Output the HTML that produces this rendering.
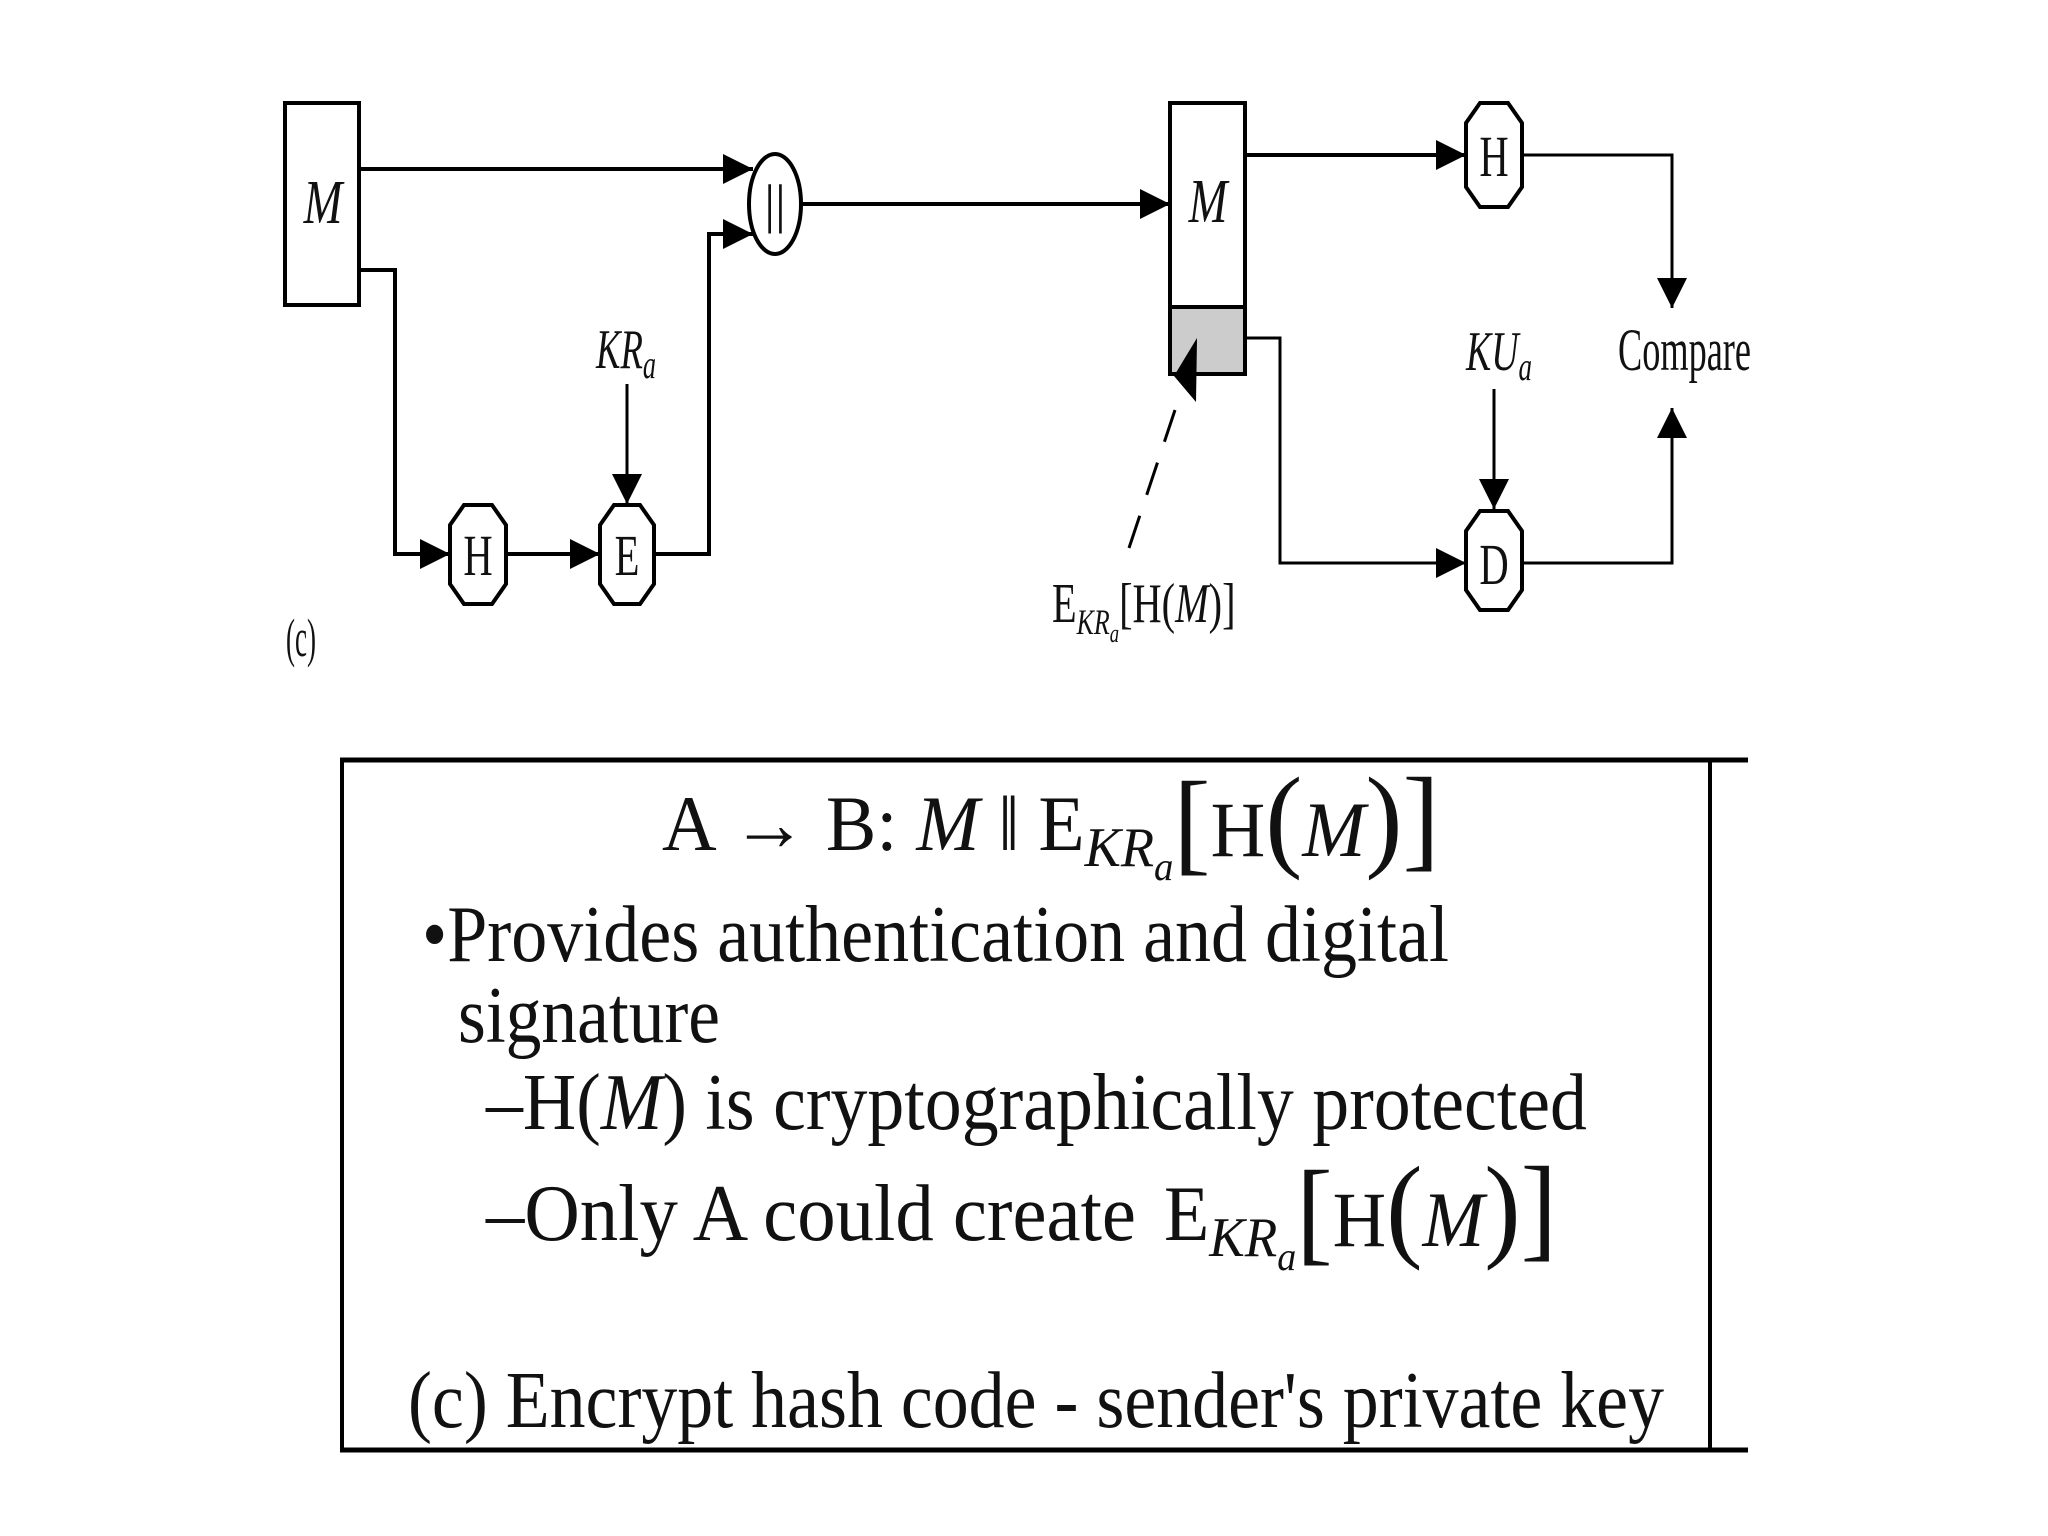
<!DOCTYPE html>
<html><head><meta charset="utf-8"><style>
html,body{margin:0;padding:0;background:#fff;}
svg{display:block;}
text{font-family:"Liberation Serif",serif;fill:#111;}
</style></head><body>
<svg width="2048" height="1536" viewBox="0 0 2048 1536" xmlns="http://www.w3.org/2000/svg">
<defs>
<marker id="ah" viewBox="0 0 10 10" refX="10" refY="5" markerWidth="30" markerHeight="30" markerUnits="userSpaceOnUse" orient="auto">
<path d="M0,0 L10,5 L0,10 z" fill="#000"/>
</marker>
</defs>
<g stroke="#000" stroke-width="4" fill="none">
<rect x="285" y="103" width="74" height="202" fill="#fff"/>
<line x1="359" y1="169" x2="753" y2="169" marker-end="url(#ah)"/>
<polyline points="359,270 395,270 395,554 450,554" marker-end="url(#ah)"/>
<line x1="506" y1="554" x2="600" y2="554" marker-end="url(#ah)"/>
<polyline points="654,554 709,554 709,234 753,234" marker-end="url(#ah)"/>
<line x1="627" y1="384" x2="627" y2="504" stroke-width="3" marker-end="url(#ah)"/>
<ellipse cx="775" cy="204" rx="26" ry="50" fill="#fff"/>
<line x1="801" y1="204" x2="1170" y2="204" marker-end="url(#ah)"/>
<polygon points="464,505 492,505 506,525 506,584 492,604 464,604 450,584 450,525" fill="#fff"/>
<polygon points="614,505 640,505 654,525 654,584 640,604 614,604 600,584 600,525" fill="#fff"/>
<rect x="1170" y="103" width="75" height="204" fill="#fff"/>
<rect x="1170" y="307" width="75" height="67" fill="#ccc"/>
<line x1="1245" y1="155" x2="1466" y2="155" marker-end="url(#ah)"/>
<polygon points="1480,103 1508,103 1522,123 1522,187 1508,207 1480,207 1466,187 1466,123" fill="#fff"/>
<polyline points="1522,155 1672,155 1672,308" stroke-width="3" marker-end="url(#ah)"/>
<polyline points="1245,338 1280,338 1280,563 1466,563" stroke-width="3" marker-end="url(#ah)"/>
<polygon points="1480,511 1508,511 1522,531 1522,590 1508,610 1480,610 1466,590 1466,531" fill="#fff"/>
<polyline points="1522,563 1672,563 1672,408" stroke-width="3" marker-end="url(#ah)"/>
<line x1="1494" y1="389" x2="1494" y2="509" stroke-width="3" marker-end="url(#ah)"/>
<line x1="1129" y1="548" x2="1175" y2="410" stroke-width="3" stroke-dasharray="34,22"/>
<line x1="340" y1="760" x2="1748" y2="760" stroke-width="5"/>
<line x1="340" y1="1450" x2="1748" y2="1450" stroke-width="5"/>
<line x1="342" y1="760" x2="342" y2="1450" stroke-width="4"/>
<line x1="1710" y1="760" x2="1710" y2="1450" stroke-width="4"/>
</g>
<polygon points="1174,376 1197,338 1196,402" fill="#000"/>
<g fill="#333">
<text x="323" y="223" font-size="62" font-style="italic" text-anchor="middle" transform="translate(323 0) scale(0.75 1) translate(-323 0)">M</text>
<text x="1208" y="222" font-size="62" font-style="italic" text-anchor="middle" transform="translate(1208 0) scale(0.75 1) translate(-1208 0)">M</text>
<text x="775" y="222" font-size="54" text-anchor="middle">||</text>
<text x="478" y="575" font-size="58" text-anchor="middle" transform="translate(478 0) scale(0.7 1) translate(-478 0)">H</text>
<text x="627" y="575" font-size="58" text-anchor="middle" transform="translate(627 0) scale(0.7 1) translate(-627 0)">E</text>
<text x="1494" y="176" font-size="58" text-anchor="middle" transform="translate(1494 0) scale(0.7 1) translate(-1494 0)">H</text>
<text x="1494" y="584" font-size="58" text-anchor="middle" transform="translate(1494 0) scale(0.7 1) translate(-1494 0)">D</text>
<text x="596" y="368" font-size="56" font-style="italic" textLength="60" lengthAdjust="spacingAndGlyphs">KR<tspan font-size="40" dy="10">a</tspan></text>
<text x="1466" y="370" font-size="56" font-style="italic" textLength="66" lengthAdjust="spacingAndGlyphs">KU<tspan font-size="40" dy="10">a</tspan></text>
<text x="1618" y="370" font-size="60" textLength="133" lengthAdjust="spacingAndGlyphs">Compare</text>
<text x="286" y="656" font-size="54" textLength="30" lengthAdjust="spacingAndGlyphs">(c)</text>
<text x="1052" y="622" font-size="56" transform="translate(1052 0) scale(0.72 1) translate(-1052 0)">E<tspan font-size="36" font-style="italic" dy="12">KR</tspan><tspan font-size="26" font-style="italic" dy="8">a</tspan><tspan dy="-20">[H(</tspan><tspan font-style="italic">M</tspan>)]</text>
</g>
<g fill="#111">
<text x="662" y="850" font-size="78" transform="translate(662 0) scale(0.97 1) translate(-662 0)">A → B:  <tspan font-style="italic">M</tspan> ‖ E<tspan font-size="56" font-style="italic" dy="16">KR</tspan><tspan font-size="40" font-style="italic" dy="14">a</tspan><tspan font-size="115" dy="-20">[</tspan><tspan dy="-4">H</tspan><tspan font-size="115">(</tspan><tspan font-style="italic">M</tspan><tspan font-size="115">)]</tspan></text>
<text x="422" y="961" font-size="80" textLength="1027" lengthAdjust="spacingAndGlyphs">•Provides authentication and digital</text>
<text x="458" y="1042" font-size="80" textLength="262" lengthAdjust="spacingAndGlyphs">signature</text>
<text x="486" y="1129" font-size="80" textLength="1101" lengthAdjust="spacingAndGlyphs">–H(<tspan font-style="italic">M</tspan>) is cryptographically protected</text>
<text x="486" y="1240" font-size="80" textLength="650" lengthAdjust="spacingAndGlyphs">–Only A could create</text>
<text x="1164" y="1240" font-size="78" transform="translate(1164 0) scale(0.95 1) translate(-1164 0)">E<tspan font-size="56" font-style="italic" dy="16">KR</tspan><tspan font-size="40" font-style="italic" dy="14">a</tspan><tspan font-size="115" dy="-20">[</tspan><tspan dy="-4">H</tspan><tspan font-size="115">(</tspan><tspan font-style="italic">M</tspan><tspan font-size="115">)]</tspan></text>
<text x="408" y="1427" font-size="80" textLength="1256" lengthAdjust="spacingAndGlyphs">(c) Encrypt hash code - sender's private key</text>
</g>
</svg>
</body></html>
